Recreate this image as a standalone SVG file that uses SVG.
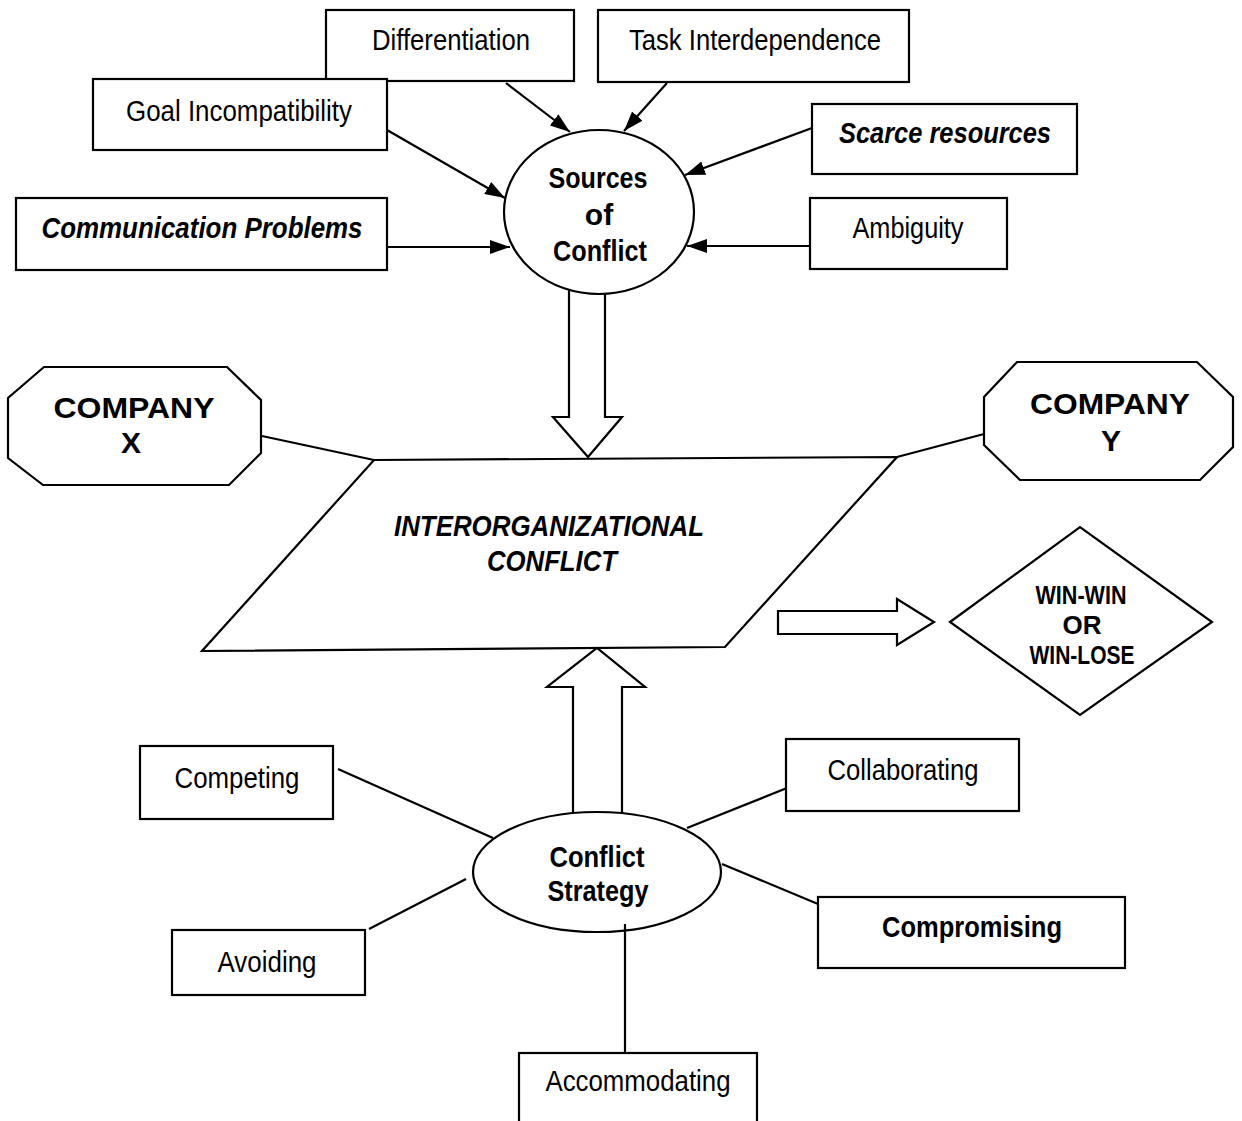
<svg xmlns="http://www.w3.org/2000/svg" width="1242" height="1121" viewBox="0 0 1242 1121">
  <defs>
    <marker id="head" viewBox="0 0 20 14" refX="20" refY="7" markerWidth="20" markerHeight="14" markerUnits="userSpaceOnUse" orient="auto">
      <path d="M0,0 L20,7 L0,14 Z" fill="#000"/>
    </marker>
    <style>
      .box { fill: #fff; stroke: #000; stroke-width: 2.2; }
      .link { fill: none; stroke: #000; stroke-width: 2.2; }
      .arrow { fill: none; stroke: #000; stroke-width: 2.2; marker-end: url(#head); }
      .lbl { font-family: "Liberation Sans Narrow", "Liberation Sans", Arial, sans-serif; font-size: 30px; fill: #000; text-anchor: middle; }
      .b { font-weight: bold; }
      .bi { font-weight: bold; font-style: italic; }
      .sm { font-size: 26px; }
      .wide { font-family: "Liberation Sans", Arial, sans-serif; font-weight: bold; font-size: 30px; fill: #000; text-anchor: middle; }
    </style>
  </defs>
  <rect width="1242" height="1121" fill="#fff"/>

  <!-- connectors -->
  <g id="connectors">
    <!-- hollow block arrows -->
    <polygon class="box" points="569,280 605,280 605,417 622,417 588,457 553,417 569,417"/>
    <polygon class="box" points="573,822 573,687 547,687 597,648 645,687 622,687 622,822"/>
    <polygon class="box" points="778,611 897,611 897,599 934,622 897,645 897,634 778,634"/>
    <!-- sources feeding the conflict -->
    <line class="arrow" x1="506" y1="83" x2="570" y2="132"/>
    <line class="arrow" x1="667" y1="83" x2="624" y2="131"/>
    <line class="arrow" x1="387" y1="130" x2="505" y2="198"/>
    <line class="arrow" x1="387" y1="247" x2="510" y2="247"/>
    <line class="arrow" x1="812" y1="128" x2="685" y2="175"/>
    <line class="arrow" x1="810" y1="246" x2="687" y2="246"/>
    <!-- companies to the conflict -->
    <line class="link" x1="262" y1="436" x2="374" y2="460"/>
    <line class="link" x1="984" y1="434" x2="897" y2="457"/>
    <!-- strategy spokes -->
    <line class="link" x1="338" y1="769" x2="493" y2="838"/>
    <line class="link" x1="369" y1="929" x2="466" y2="879"/>
    <line class="link" x1="687" y1="828" x2="787" y2="788"/>
    <line class="link" x1="722" y1="864" x2="818" y2="904"/>
  </g>

  <g id="differentiation">
    <rect class="box" x="326" y="10" width="248" height="71"/>
    <text class="lbl" x="451" y="50" textLength="158" lengthAdjust="spacingAndGlyphs">Differentiation</text>
  </g>
  <g id="task-interdependence">
    <rect class="box" x="598" y="10" width="311" height="72"/>
    <text class="lbl" x="755" y="50" textLength="252" lengthAdjust="spacingAndGlyphs">Task Interdependence</text>
  </g>
  <g id="goal-incompatibility">
    <rect class="box" x="93" y="79" width="294" height="71"/>
    <text class="lbl" x="239" y="121" textLength="226" lengthAdjust="spacingAndGlyphs">Goal Incompatibility</text>
  </g>
  <g id="scarce-resources">
    <rect class="box" x="812" y="104" width="265" height="70"/>
    <text class="lbl bi" x="945" y="143" textLength="212" lengthAdjust="spacingAndGlyphs">Scarce resources</text>
  </g>
  <g id="communication-problems">
    <rect class="box" x="16" y="198" width="371" height="72"/>
    <text class="lbl bi" x="202" y="238" textLength="321" lengthAdjust="spacingAndGlyphs">Communication Problems</text>
  </g>
  <g id="ambiguity">
    <rect class="box" x="810" y="198" width="197" height="71"/>
    <text class="lbl" x="908" y="238" textLength="111" lengthAdjust="spacingAndGlyphs">Ambiguity</text>
  </g>

  <g id="sources-of-conflict">
    <ellipse class="box" cx="599" cy="212" rx="95" ry="82"/>
    <text class="lbl b" x="598" y="188" textLength="99" lengthAdjust="spacingAndGlyphs">Sources</text>
    <text class="lbl b" x="599" y="225">of</text>
    <text class="lbl b" x="600" y="261" textLength="94" lengthAdjust="spacingAndGlyphs">Conflict</text>
  </g>

  <g id="company-x">
    <polygon class="box" points="44,367 227,367 261,400 261,453 229,485 43,485 8,458 8,398"/>
    <text class="wide" x="134" y="418" textLength="161" lengthAdjust="spacingAndGlyphs">COMPANY</text>
    <text class="wide" x="131" y="453">X</text>
  </g>
  <g id="company-y">
    <polygon class="box" points="1017,362 1197,362 1233,397 1233,447 1200,480 1020,480 984,445 984,397"/>
    <text class="wide" x="1110" y="414" textLength="160" lengthAdjust="spacingAndGlyphs">COMPANY</text>
    <text class="wide" x="1111" y="451">Y</text>
  </g>

  <g id="interorganizational-conflict">
    <polygon class="box" points="374,460 897,457 725,647 202,651"/>
    <text class="lbl bi" x="549" y="536" textLength="310" lengthAdjust="spacingAndGlyphs">INTERORGANIZATIONAL</text>
    <text class="lbl bi" x="552" y="571" textLength="130" lengthAdjust="spacingAndGlyphs">CONFLICT</text>
  </g>

  <g id="outcome">
    <polygon class="box" points="950,622 1080,527 1212,622 1080,715"/>
    <text class="lbl b sm" x="1081" y="604" textLength="91" lengthAdjust="spacingAndGlyphs">WIN-WIN</text>
    <text class="lbl b sm" x="1082" y="634">OR</text>
    <text class="lbl b sm" x="1082" y="664" textLength="105" lengthAdjust="spacingAndGlyphs">WIN-LOSE</text>
  </g>

  <g id="conflict-strategy">
    <ellipse class="box" cx="597" cy="872" rx="124" ry="60"/>
    <text class="lbl b" x="597" y="867" textLength="95" lengthAdjust="spacingAndGlyphs">Conflict</text>
    <text class="lbl b" x="598" y="901" textLength="101" lengthAdjust="spacingAndGlyphs">Strategy</text>
  </g>
  <line class="link" x1="625" y1="924" x2="625" y2="1053"/>

  <g id="competing">
    <rect class="box" x="140" y="746" width="193" height="73"/>
    <text class="lbl" x="237" y="788" textLength="125" lengthAdjust="spacingAndGlyphs">Competing</text>
  </g>
  <g id="collaborating">
    <rect class="box" x="786" y="739" width="233" height="72"/>
    <text class="lbl" x="903" y="780" textLength="151" lengthAdjust="spacingAndGlyphs">Collaborating</text>
  </g>
  <g id="avoiding">
    <rect class="box" x="172" y="930" width="193" height="65"/>
    <text class="lbl" x="267" y="972" textLength="99" lengthAdjust="spacingAndGlyphs">Avoiding</text>
  </g>
  <g id="compromising">
    <rect class="box" x="818" y="897" width="307" height="71"/>
    <text class="lbl b" x="972" y="937" textLength="180" lengthAdjust="spacingAndGlyphs">Compromising</text>
  </g>
  <g id="accommodating">
    <rect class="box" x="519" y="1053" width="238" height="80"/>
    <text class="lbl" x="638" y="1091" textLength="185" lengthAdjust="spacingAndGlyphs">Accommodating</text>
  </g>
</svg>
